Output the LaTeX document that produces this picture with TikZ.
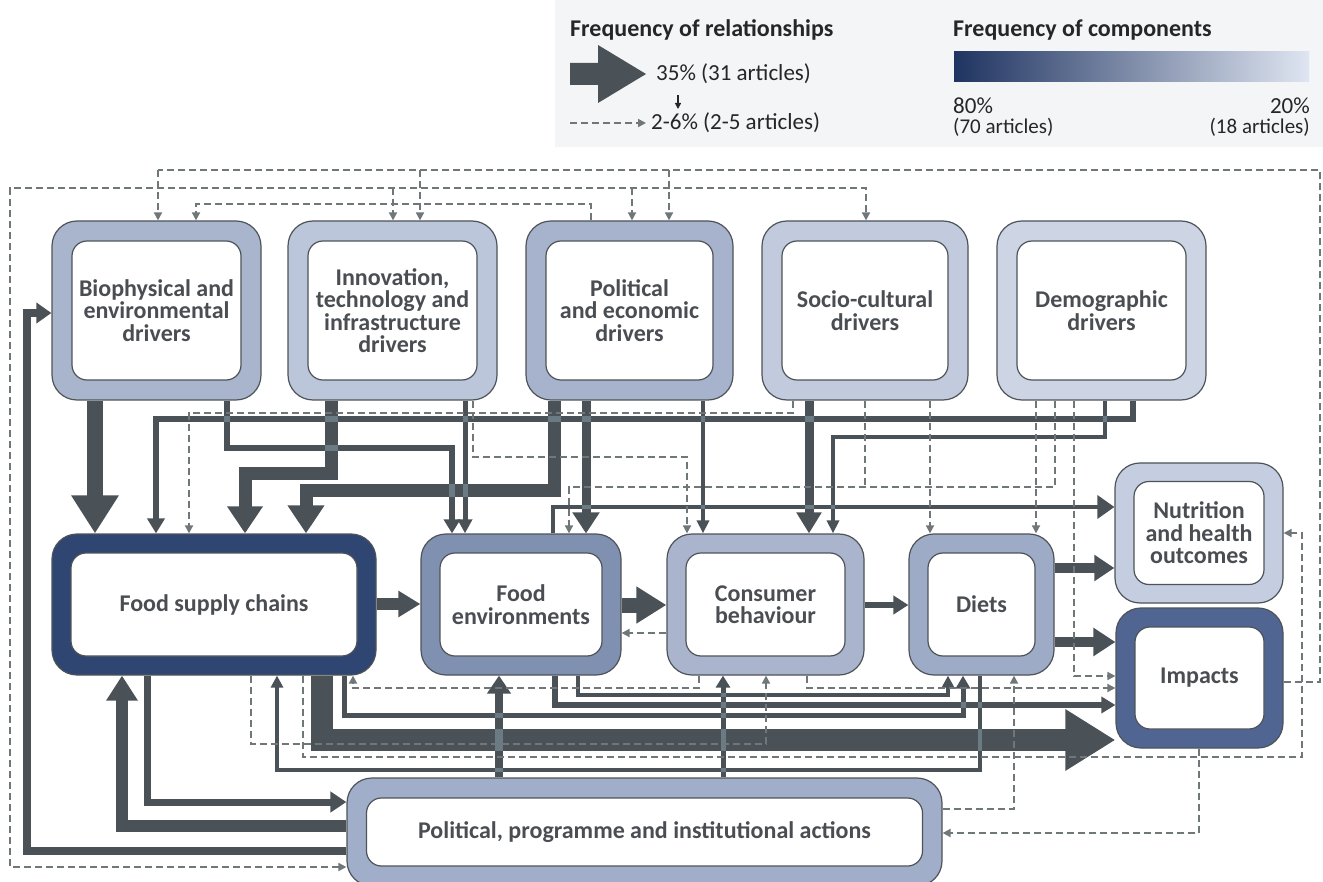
\documentclass[tikz,border=0pt]{standalone}
\usepackage{fontspec}
\setmainfont{Carlito}
\usetikzlibrary{arrows.meta,calc}
\definecolor{dkc}{HTML}{4A5157}
\definecolor{dsc}{HTML}{6F7779}
\definecolor{xc}{HTML}{6B7B84}
\definecolor{bordc}{HTML}{4D5358}
\definecolor{txtc}{HTML}{4A4E53}
\definecolor{legt}{HTML}{262626}
\definecolor{legbg}{HTML}{F4F5F7}
\definecolor{gradl}{HTML}{1F3461}
\definecolor{gradr}{HTML}{DFE5F1}
\definecolor{cbio}{HTML}{A9B5CD}
\definecolor{cinno}{HTML}{BCC6DA}
\definecolor{cpol}{HTML}{A7B3CC}
\definecolor{csoc}{HTML}{C2CBDD}
\definecolor{cdem}{HTML}{CDD5E5}
\definecolor{cfsc}{HTML}{2F4572}
\definecolor{cfe}{HTML}{8090B1}
\definecolor{ccb}{HTML}{AAB5CD}
\definecolor{cdiet}{HTML}{9EABC7}
\definecolor{cnut}{HTML}{C5CEE1}
\definecolor{cimp}{HTML}{506591}
\definecolor{cpp}{HTML}{A1AEC9}
\newcommand\boxfont{\fontsize{24}{22.5}\selectfont\bfseries}
\newcommand\legb{\fontsize{24}{26}\selectfont\bfseries}
\newcommand\legr{\fontsize{23}{25}\selectfont}
\newcommand\legs{\fontsize{21}{23}\selectfont}
\newcommand\xg[4]{\fill[xc] ({#1-#3/2},{#2-#4/2}) rectangle ({#1+#3/2},{#2+#4/2});}
\tikzset{
  outerbox/.style={draw=bordc, line width=1.2pt, rounded corners=25pt, inner sep=0pt},
  innerbox/.style={draw=bordc, line width=1.2pt, fill=white, rounded corners=15pt, inner sep=0pt, align=center, font=\boxfont, text=txtc},
  dk/.style={draw=dkc},
  ah/.style 2 args={arrows={-{Triangle[width=#1pt,length=#2pt]}}},
  dsh/.style={draw=dsc, line width=1.7pt, dash pattern=on 7pt off 4pt},
  dah/.style={arrows={-{Triangle[width=8pt,length=8pt]}}},
  legtext/.style={inner sep=0pt, text=legt},
}
\begin{document}
\begin{tikzpicture}[x=1pt,y=-1pt]
\useasboundingbox (0,0) rectangle (1323,882);
\clip (0,0) rectangle (1323,882);
% legend
\fill[legbg] (555,0) rectangle (1323,147);
\node[legtext, anchor=west, font=\legb] (lt1) at (570,30) {Frequency of relationships};
\fill[dkc] (570,63) -- (598,63) -- (598,45) -- (646,74) -- (598,103) -- (598,85) -- (570,85) -- cycle;
\node[legtext, anchor=west, font=\legr] (l35) at (656,74) {35\% (31 articles)};
\draw[legt, line width=1.3pt, -{Triangle[width=6pt,length=6pt]}] (678,95) -- (678,109);
\draw[dsh, dah] (570,123) -- (646,123);
\node[legtext, anchor=west, font=\legr] (l26) at (651,123) {2-6\% (2-5 articles)};
\node[legtext, anchor=west, font=\legb] (lt2) at (953,30) {Frequency of components};
\shade[left color=gradl, right color=gradr] (954,52) rectangle (1309,82);
\node[legtext, anchor=west, font=\legr] (l80) at (953,106) {80\%};
\node[legtext, anchor=west, font=\legs] (l70) at (953,127) {(70 articles)};
\node[legtext, anchor=east, font=\legr] (l20) at (1310,106) {20\%};
\node[legtext, anchor=east, font=\legs] (l18) at (1310,127) {(18 articles)};
% boxes
\node[outerbox, fill=cbio, minimum width=209pt, minimum height=179pt] (bio) at (156.5,310.5) {};
\node[innerbox, minimum width=169pt, minimum height=139pt] (bio-t) at (bio) {Biophysical and\\environmental\\drivers};
\node[outerbox, fill=cinno, minimum width=209pt, minimum height=179pt] (inno) at (392.5,310.5) {};
\node[innerbox, minimum width=169pt, minimum height=139pt] (inno-t) at (inno) {Innovation,\\technology and\\infrastructure\\drivers};
\node[outerbox, fill=cpol, minimum width=207pt, minimum height=179pt] (pol) at (629.5,310.5) {};
\node[innerbox, minimum width=167pt, minimum height=139pt] (pol-t) at (pol) {Political\\and economic\\drivers};
\node[outerbox, fill=csoc, minimum width=206pt, minimum height=179pt] (soc) at (865,310.5) {};
\node[innerbox, minimum width=166pt, minimum height=139pt] (soc-t) at (soc) {Socio-cultural\\drivers};
\node[outerbox, fill=cdem, minimum width=209pt, minimum height=179pt] (dem) at (1101.5,310.5) {};
\node[innerbox, minimum width=169pt, minimum height=139pt] (dem-t) at (dem) {Demographic\\drivers};
\node[outerbox, fill=cfsc, minimum width=324pt, minimum height=141pt] (fsc) at (214,604.5) {};
\node[innerbox, minimum width=286pt, minimum height=103pt] (fsc-t) at (fsc) {Food supply chains};
\node[outerbox, fill=cfe, minimum width=200pt, minimum height=141pt] (fe) at (521,604.5) {};
\node[innerbox, minimum width=162pt, minimum height=103pt] (fe-t) at (fe) {Food\\environments};
\node[outerbox, fill=ccb, minimum width=197pt, minimum height=141pt] (cb) at (765.5,604.5) {};
\node[innerbox, minimum width=159pt, minimum height=103pt] (cb-t) at (cb) {Consumer\\behaviour};
\node[outerbox, fill=cdiet, minimum width=145pt, minimum height=141pt] (diet) at (981.5,604.5) {};
\node[innerbox, minimum width=107pt, minimum height=103pt] (diet-t) at (diet) {Diets};
\node[outerbox, fill=cnut, minimum width=168pt, minimum height=140pt] (nut) at (1199,533) {};
\node[innerbox, minimum width=130pt, minimum height=103pt] (nut-t) at (nut) {Nutrition\\and health\\outcomes};
\node[outerbox, fill=cimp, minimum width=167pt, minimum height=140pt] (imp) at (1199.5,678) {};
\node[innerbox, minimum width=129pt, minimum height=102pt] (imp-t) at (imp) {Impacts};
\node[outerbox, fill=cpp, minimum width=595pt, minimum height=108pt] (pp) at (644.5,832) {};
\node[innerbox, minimum width=556pt, minimum height=68pt] (pp-t) at (pp) {Political, programme and institutional actions};
% dark connectors, top
\draw[dk,line width=16pt,ah={45}{38}] (95,0|-bio.south) -- (95,0|-fsc.north);
\draw[dk,line width=6pt,ah={17}{15}] (1133,0|-dem.south) -- (1133,419) -- (156,419) -- (156,0|-fsc.north);
\draw[dk,line width=6pt,ah={16}{14}] (227,0|-bio.south) -- (227,448) -- (452,448) -- (452,0|-fe.north);
\draw[dk,line width=13pt,ah={34}{27}] (331,0|-inno.south) -- (331,473) -- (245,473) -- (245,0|-fsc.north);
\draw[dk,line width=5pt,ah={14}{14}] (465,0|-inno.south) -- (465,0|-fe.north);
\draw[dk,line width=13pt,ah={35}{28}] (554,0|-pol.south) -- (554,490) -- (306,490) -- (306,0|-fsc.north);
\draw[dk,line width=9pt,ah={26}{21}] (586,0|-pol.south) -- (586,0|-fe.north);
\draw[dk,line width=4pt,ah={12}{13}] (703,0|-pol.south) -- (703,0|-cb.north);
\draw[dk,line width=9pt,ah={24}{21}] (809,0|-soc.south) -- (809,0|-cb.north);
\draw[dk,line width=4pt,ah={12}{13}] (1105,0|-dem.south) -- (1105,437) -- (833,437) -- (833,0|-cb.north);
\draw[dk,line width=3.5pt,ah={23}{17}] (553,0|-fe.north) -- (553,507) -- (nut.west|-0,507);
% middle
\draw[dk,line width=12pt,ah={25}{22}] (fsc.east|-0,604) -- (fe.west|-0,604);
\draw[dk,line width=15pt,ah={35}{30}] (fe.east|-0,605) -- (cb.west|-0,605);
\draw[dk,line width=6pt,ah={18}{15}] (cb.east|-0,605) -- (diet.west|-0,605);
\draw[dk,line width=10pt,ah={25}{20}] (diet.east|-0,568) -- (nut.west|-0,568);
\draw[dk,line width=10pt,ah={27}{22}] (diet.east|-0,642) -- (imp.west|-0,642);
% bottom
\draw[dk,line width=22pt,ah={58}{50}] (322,0|-fsc.south) -- (322,740) -- (imp.west|-0,740);
\draw[dk,line width=5pt,ah={14}{13}] (344,0|-fsc.south) -- (344,715) -- (963,715) -- (963,0|-diet.south);
\draw[dk,line width=4pt,ah={12}{12}] (578,0|-fe.south) -- (578,695) -- (948,695) -- (948,0|-diet.south);
\draw[dk,line width=6pt,ah={16}{14}] (555,0|-fe.south) -- (555,705) -- (imp.west|-0,705);
\draw[dk,line width=4pt,ah={12}{12}] (980,0|-diet.south) -- (980,770) -- (277,770) -- (277,0|-fsc.south);
\draw[dk,line width=8pt,ah={23}{18}] (499,0|-pp.north) -- (499,0|-fe.south);
\draw[dk,line width=5pt,ah={14}{12}] (723,0|-pp.north) -- (723,0|-cb.south);
\draw[dk,line width=12pt,ah={30}{25}] (pp.west|-0,826) -- (122,826) -- (122,0|-fsc.south);
\draw[dk,line width=7pt,ah={20}{16}] (147,0|-fsc.south) -- (147,802) -- (pp.west|-0,802);
\draw[dk,line width=8pt,ah={20}{15}] (pp.west|-0,851) -- (27,851) -- (27,313) -- (bio.west|-0,313);
% crossings
\xg{227}{419}{6}{6}\xg{331}{419}{13}{6}\xg{465}{419}{5}{6}\xg{554}{419}{13}{6}
\xg{586}{419}{9}{6}\xg{703}{419}{4}{6}\xg{809}{419}{9}{6}\xg{1105}{419}{4}{6}
\xg{331}{448}{13}{6}
\xg{452}{490}{6}{13}\xg{465}{490}{5}{13}
\xg{586}{507}{9}{3.5}\xg{703}{507}{4}{3.5}\xg{809}{507}{9}{3.5}\xg{833}{507}{4}{3.5}
\xg{499}{715}{8}{5}\xg{499}{740}{8}{22}\xg{499}{770}{8}{4}
\xg{723}{695}{5}{4}\xg{723}{705}{5}{6}\xg{723}{715}{5}{5}\xg{723}{740}{5}{22}\xg{723}{770}{5}{4}
\xg{963}{705}{5}{6}
\xg{980}{705}{4}{6}\xg{980}{740}{4}{22}
% dashed connectors
\draw[dsh,dah] (793,0|-soc.south) -- (793,413) -- (189,413) -- (189,0|-fsc.north);
\draw[dsh,dah] (473,0|-inno.south) -- (473,457) -- (687,457) -- (687,0|-cb.north);
\draw[dsh,dah] (591,0|-pol.north) -- (591,204) -- (196,204) -- (196,0|-bio.north);
\coordinate (jfe) at (569,487);
\draw[dsh,dah] (1055,0|-dem.south) -- (1055,0|-jfe) -- (jfe) -- (569,0|-fe.north);
\draw[dsh] (865,0|-soc.south) -- (865,0|-jfe);
\draw[dsh,dah] (930,0|-soc.south) -- (930,0|-diet.north);
\draw[dsh,dah] (1036,0|-dem.south) -- (1036,0|-diet.north);
\draw[dsh,dah] (1074,0|-dem.south) -- (1074,676) -- (imp.west|-0,676);
\draw[dsh,dah] (cb.west|-0,633) -- (fe.east|-0,633);
\draw[dsh,dah] (251,0|-fsc.south) -- (251,744) -- (766,744) -- (766,0|-cb.south);
\draw[dsh,dah] (303,0|-fsc.south) -- (303,757) -- (1302,757) -- (1302,533) -- (nut.east|-0,533);
\draw[dsh,dah] (699,0|-cb.south) -- (699,688) -- (353,688) -- (353,0|-fsc.south);
\draw[dsh,dah] (807,0|-cb.south) -- (807,688) -- (imp.west|-0,688);
\draw[dsh,dah] (pp.east|-0,809) -- (1014,809) -- (1014,0|-diet.south);
\draw[dsh,dah] (1199,0|-imp.south) -- (1199,833) -- (pp.east|-0,833);
\coordinate (la) at (1320,170);
\draw[dsh] (imp.east|-0,682) -- (1320,682) -- (la) -- (158,0|-la);
\draw[dsh,dah] (158,0|-la) -- (158,0|-bio.north);
\draw[dsh,dah] (420,0|-la) -- (420,0|-inno.north);
\draw[dsh,dah] (669,0|-la) -- (669,0|-pol.north);
\coordinate (lb) at (10,188);
\draw[dsh,arrows={{Triangle[width=8pt,length=8pt]}-{Triangle[width=8pt,length=8pt]}}] (pp.west|-0,867) -- (10,867) -- (lb) -- (866,0|-lb) -- (866,0|-soc.north);
\draw[dsh,dah] (393,0|-lb) -- (393,0|-inno.north);
\draw[dsh,dah] (632,0|-lb) -- (632,0|-pol.north);
\end{tikzpicture}
\end{document}
